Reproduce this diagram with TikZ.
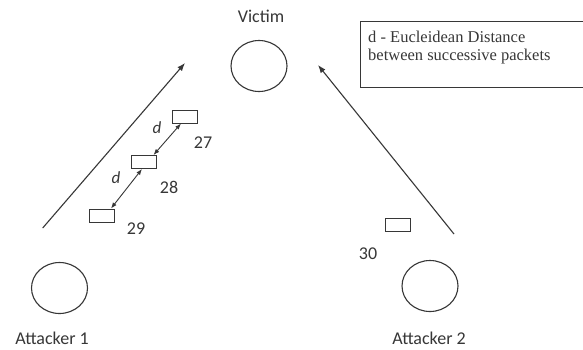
\documentclass[tikz,border=0pt]{standalone}
\usepackage{fontspec}
\setmainfont{Carlito}
\newfontfamily\serifleg{Liberation Serif}
\usetikzlibrary{arrows.meta,shapes.geometric}
\definecolor{ink}{RGB}{55,55,55}
\begin{document}
\begin{tikzpicture}[x=1pt,y=-1pt,
  host/.style={draw=ink,line width=1.1pt,ellipse,minimum width=56pt,minimum height=51pt,inner sep=0pt},
  pkt/.style={draw=ink,line width=1pt,rectangle,minimum width=25pt,minimum height=13pt,inner sep=0pt},
  lbl/.style={text=ink,font=\fontsize{18}{20}\selectfont,inner sep=0pt},
  flow/.style={draw=ink,line width=1.1pt,-{Latex[length=8pt,width=6pt]}},
  dist/.style={draw=ink,line width=0.9pt,{Latex[length=6pt,width=4.5pt]}-{Latex[length=6pt,width=4.5pt]}}]
\useasboundingbox (0,0) rectangle (583,349);
\fill[white] (0,0) rectangle (583,349);
% hosts
\node[host] (victim) at (259,66) {};
\node[host] (att1) at (59.5,288) {};
\node[host] (att2) at (430,286) {};
\node[lbl] (victimlbl) at (261,16) {Victim};
\node[lbl] (att1lbl) at (52,338) {Attacker 1};
\node[lbl] (att2lbl) at (429,338) {Attacker 2};
% legend
\node[draw=ink,line width=1.1pt,minimum width=224pt,minimum height=66pt,anchor=north west,inner sep=0pt] (legend) at (359.5,21) {};
\node[anchor=north west,inner sep=0pt,text=ink,align=left,font=\serifleg\fontsize{16.5}{18}\selectfont] (legendtxt) at (368,31) {d - Eucleidean Distance\\between successive packets};
% flow arrows
\coordinate (l1s) at (42.7,228);
\coordinate (l1e) at (185,63);
\coordinate (l2s) at (454,234);
\coordinate (l2e) at (318,65);
\draw[flow] (l1s) -- (l1e);
\draw[flow] (l2s) -- (l2e);
% packets
\node[pkt] (p27) at (185,116.5) {};
\node[pkt] (p28) at (144,162) {};
\node[pkt] (p29) at (101.5,215.5) {};
\node[pkt] (p30) at (397.5,224.5) {};
\node[lbl] (n27) at (203,143) {27};
\node[lbl] (n28) at (169,187) {28};
\node[lbl] (n29) at (136,229) {29};
\node[lbl] (n30) at (368,254) {30};
% distances
\coordinate (a27) at ([xshift=-4pt]p27.south);
\coordinate (a28t) at ([xshift=9.5pt]p28.north);
\coordinate (a28b) at ([xshift=-2pt]p28.south);
\coordinate (a29) at ([xshift=9.5pt]p29.north);
\draw[dist] (a27) -- (a28t);
\draw[dist] (a28b) -- (a29);
\node[lbl,font=\itshape\fontsize{17}{18}\selectfont] (d1) at (157,128) {d};
\node[lbl,font=\itshape\fontsize{17}{18}\selectfont] (d2) at (116,178) {d};
\end{tikzpicture}
\end{document}
